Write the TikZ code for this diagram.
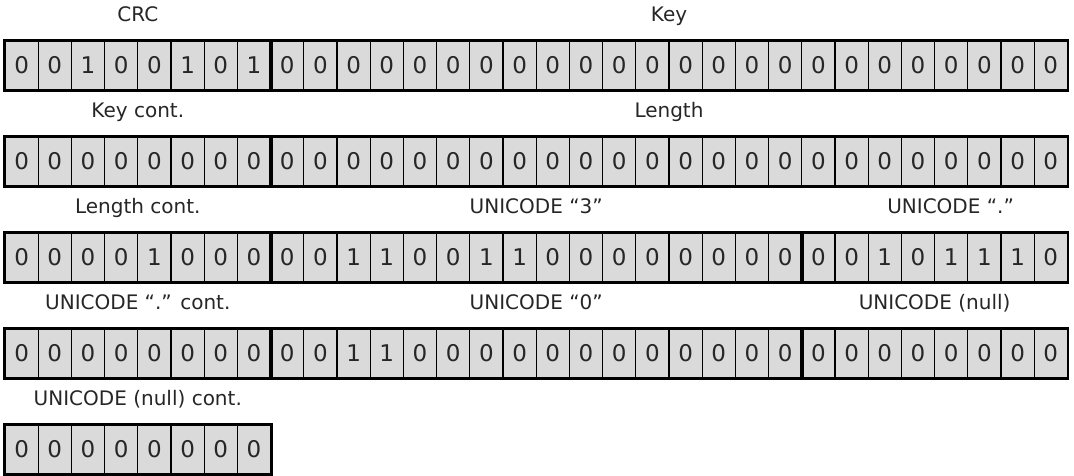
\documentclass[tikz,border=0pt]{standalone}
\usepackage{fontspec}
\setmainfont{DejaVu Sans}
\usetikzlibrary{positioning, fit}
\definecolor{cellgray}{HTML}{DADADA}
\definecolor{inkgray}{HTML}{262626}
\tikzset{
  bitcell/.style={draw=black, fill=cellgray, line width=1.3pt,
    minimum width=33.2pt, minimum height=49pt, inner sep=0pt,
    text=inkgray, font=\fontsize{23}{26}\selectfont},
  fieldbox/.style={draw=black, line width=2.6pt, inner sep=0pt},
  fieldlabel/.style={font=\fontsize{20}{24}\selectfont, text=inkgray,
    inner sep=0pt, text height=15pt, text depth=0pt},
}

\begin{document}
\begin{tikzpicture}[x=1pt, y=-1pt]
\useasboundingbox (0,0) rectangle (1074,475);

% bit cells, one row of 32 (last row 8)
\foreach \row/\top/\bits in {
  1/41/{0,0,1,0,0,1,0,1,0,0,0,0,0,0,0,0,0,0,0,0,0,0,0,0,0,0,0,0,0,0,0,0},
  2/137/{0,0,0,0,0,0,0,0,0,0,0,0,0,0,0,0,0,0,0,0,0,0,0,0,0,0,0,0,0,0,0,0},
  3/233/{0,0,0,0,1,0,0,0,0,0,1,1,0,0,1,1,0,0,0,0,0,0,0,0,0,0,1,0,1,1,1,0},
  4/329/{0,0,0,0,0,0,0,0,0,0,1,1,0,0,0,0,0,0,0,0,0,0,0,0,0,0,0,0,0,0,0,0},
  5/425/{0,0,0,0,0,0,0,0}}
  \foreach \b [count=\i from 0] in \bits
    \node[bitcell] (r\row-\i) at (21.6+\i*33.2, \top+24.5) {\b};

% fields: frame + caption
\foreach \name/\row/\from/\to/\shift/\txt in {
  crc/1/0/7/0/CRC,
  key/1/8/31/0/Key,
  keycont/2/0/7/0/Key cont.,
  length/2/8/31/0/Length,
  lencont/3/0/7/0/Length cont.,
  unithree/3/8/23/0/UNICODE “3”,
  unidot/3/24/31/16/UNICODE “.”,
  unidotcont/4/0/7/0/UNICODE “.” cont.,
  unizero/4/8/23/0/UNICODE “0”,
  uninull/4/24/31/0/UNICODE (null),
  uninullcont/5/0/7/0/UNICODE (null) cont.}
{
  \node[fieldbox, fit=(r\row-\from)(r\row-\to)] (\name) {};
  \node[fieldlabel, above=17pt of \name, xshift=\shift pt] (lbl\name) {\txt};
}

\end{tikzpicture}
\end{document}
